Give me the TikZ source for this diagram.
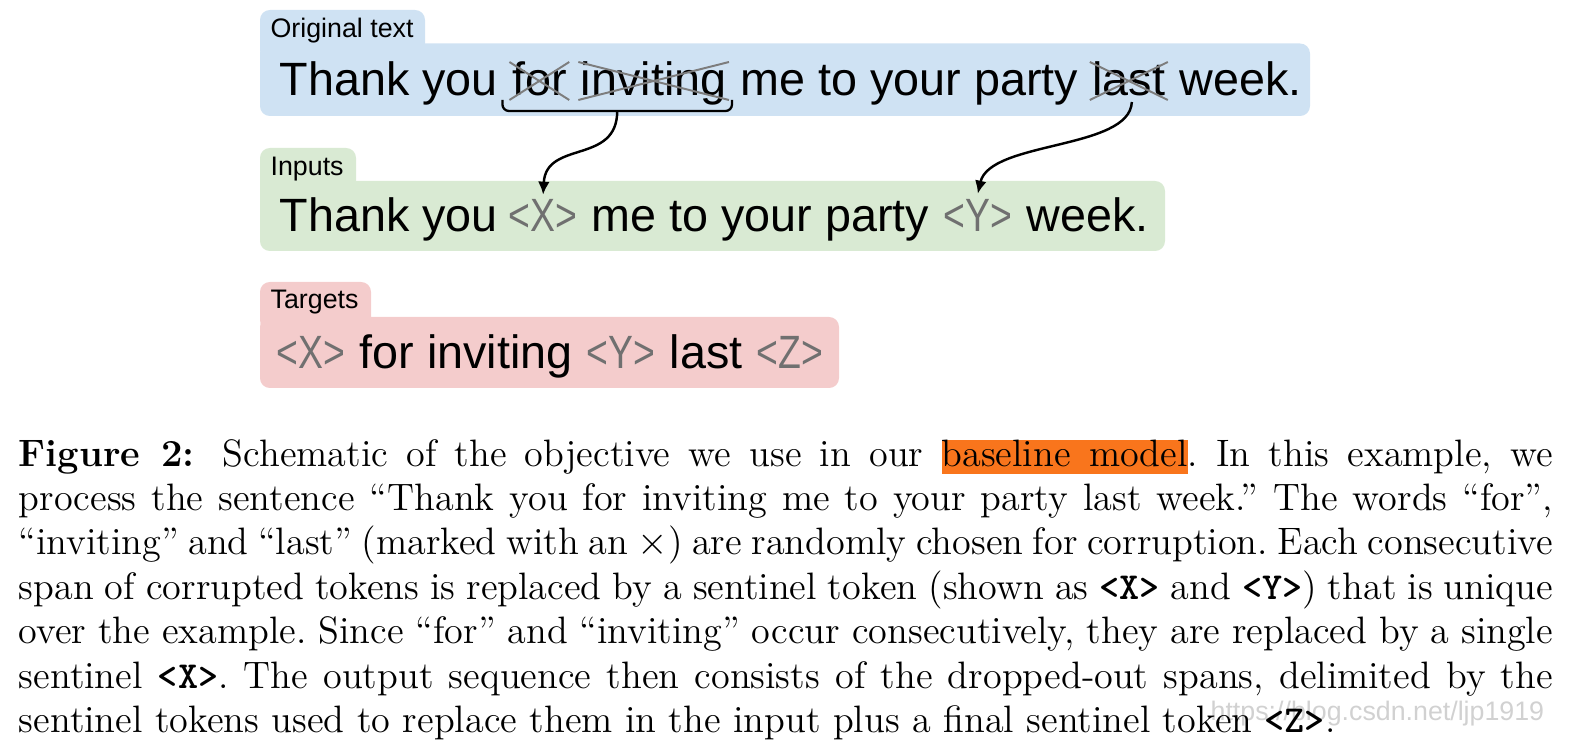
\documentclass[tikz,border=0pt]{standalone}
\usepackage{fontspec}
\usepackage{xcolor}
\usetikzlibrary{arrows.meta,positioning,calc,fit}
\newfontfamily\helv{Liberation Sans}
\newfontfamily\helvtok[FakeStretch=0.8]{Liberation Sans}
\definecolor{origblue}{RGB}{207,226,243}
\definecolor{inpgreen}{RGB}{217,234,211}
\definecolor{tgtred}{RGB}{244,204,204}
\definecolor{tokgray}{RGB}{112,112,112}
\definecolor{crossgray}{RGB}{125,125,125}
\definecolor{hlorange}{RGB}{249,117,28}
\newcommand{\hlbox}[1]{{\setlength{\fboxsep}{0pt}\colorbox{hlorange}{\rule[-2.3pt]{0pt}{10.4pt}#1}}}
\newcommand{\hlgap}{{\color{hlorange}\leaders\hrule height 8.1pt depth 2.3pt\hskip\fontdimen2\font plus\fontdimen3\font minus\fontdimen4\font}}
\newcommand{\sent}[1]{\texttt{\textbf{#1}}}

\begin{document}
\begin{tikzpicture}[
    x=0.3062pt, y=-0.3062pt,
    tabbox/.style={rectangle, inner sep=0pt, rounded corners=3pt},
    rowbox/.style={rectangle, inner sep=0pt, rounded corners=3pt},
    lab/.style={inner sep=0pt, anchor=base west, font=\helv\fontsize{8.2}{10}\selectfont},
    wd/.style={inner sep=0pt, font=\helv\fontsize{14.3}{17}\selectfont},
    tk/.style={inner sep=0pt, font=\helvtok\fontsize{14.3}{17}\selectfont, text=tokgray},
    cross/.style={draw=crossgray, line width=0.6pt},
    brk/.style={draw=black, line width=0.7pt, rounded corners=2pt},
    arr/.style={-{Latex[length=4pt,width=3.6pt]}, line width=0.75pt, draw=black},
    captext/.style={inner sep=0pt, text width=469.75pt, align=justify, font=\fontsize{11.7}{13.6}\selectfont},
    wm/.style={inner sep=0pt, anchor=base west, text=black!18, font=\helv\fontsize{8.2}{10}\selectfont}
]
    \useasboundingbox (0,0) rectangle (1588,750);

    \node [tabbox, fill=origblue, fit={(260,10) (425,60)}] (origtab) {};
    \node [rowbox, fill=origblue, fit={(260,43.5) (1310,116)}] (origbox) {};
    \node [lab] (origlab) at (270,37.7) {Original text};

    \node [tabbox, fill=inpgreen, fit={(260,148) (356,200)}] (inptab) {};
    \node [rowbox, fill=inpgreen, fit={(260,181) (1165,251)}] (inpbox) {};
    \node [lab] (inplab) at (270,175.5) {Inputs};

    \node [tabbox, fill=tgtred, fit={(260,282) (371,330)}] (tgttab) {};
    \node [rowbox, fill=tgtred, fit={(260,317) (839,388)}] (tgtbox) {};
    \node [lab] (tgtlab) at (270,309) {Targets};

    \node [wd, anchor=base west] (o1) at (279,96) {Thank you};
    \node [wd, base right=4pt of o1] (o2) {for};
    \node [wd, base right=4pt of o2] (o3) {inviting};
    \node [wd, base right=4pt of o3] (o4) {me to your party};
    \node [wd, base right=4pt of o4] (o5) {last};
    \node [wd, base right=4pt of o5] (o6) {week.};

    \node [wd, anchor=base west] (i1) at (279,231.5) {Thank you};
    \node [tk, base right=3pt of i1] (i2) {<X>};
    \node [wd, base right=4pt of i2] (i3) {me to your party};
    \node [tk, base right=4pt of i3] (i4) {<Y>};
    \node [wd, base right=4pt of i4] (i5) {week.};

    \node [tk, anchor=base west] (t1) at (276,368.5) {<X>};
    \node [wd, base right=4pt of t1] (t2) {for inviting};
    \node [tk, base right=4pt of t2] (t3) {<Y>};
    \node [wd, base right=4pt of t3] (t4) {last};
    \node [tk, base right=4pt of t4] (t5) {<Z>};

    \foreach \n in {o2,o3,o5} {
        \draw [cross] ([shift={(-2,4)}]\n.base west) -- ([shift={(2,-34)}]\n.base east);
        \draw [cross] ([shift={(-2,-34)}]\n.base west) -- ([shift={(2,4)}]\n.base east);
    }

    \draw [brk] ([shift={(-9,4)}]o2.base west) -- ([shift={(-9,15)}]o2.base west)
        -- ([shift={(5,15)}]o3.base east) -- ([shift={(5,4)}]o3.base east);
    \coordinate (span) at ($([shift={(-9,15)}]o2.base west)!0.5!([shift={(5,15)}]o3.base east)$);

    \draw [arr] (span) .. controls +(0,54) and +(3,-55) .. ([shift={(0,-4)}]i2.north);
    \draw [arr] ([shift={(3,6)}]o5.base) .. controls +(-2,48) and +(12,-53) .. ([shift={(0,-5)}]i4.north);

    \node [wm] (wmark) at (1210,720) {https://blog.csdn.net/ljp1919};

    \node [captext, anchor=north west] (caption) at (18.2,438.5) {\noindent\frenchspacing\textbf{Figure 2:}\hspace{3pt} Schematic of the objective we use in our \hlbox{baseline}\hlgap\hlbox{model}. In this example, we\linebreak
process the sentence “Thank you for inviting me to your party last week.” The words “for”,\linebreak
“inviting” and “last” (marked with an $\times$) are randomly chosen for corruption. Each consecutive\linebreak
span of corrupted tokens is replaced by a sentinel token (shown as \sent{<X>} and \sent{<Y>}) that is unique\linebreak
over the example. Since “for” and “inviting” occur consecutively, they are replaced by a single\linebreak
sentinel \sent{<X>}. The output sequence then consists of the dropped-out spans, delimited by the\linebreak
sentinel tokens used to replace them in the input plus a final sentinel token \sent{<Z>}.};
\end{tikzpicture}
\end{document}
